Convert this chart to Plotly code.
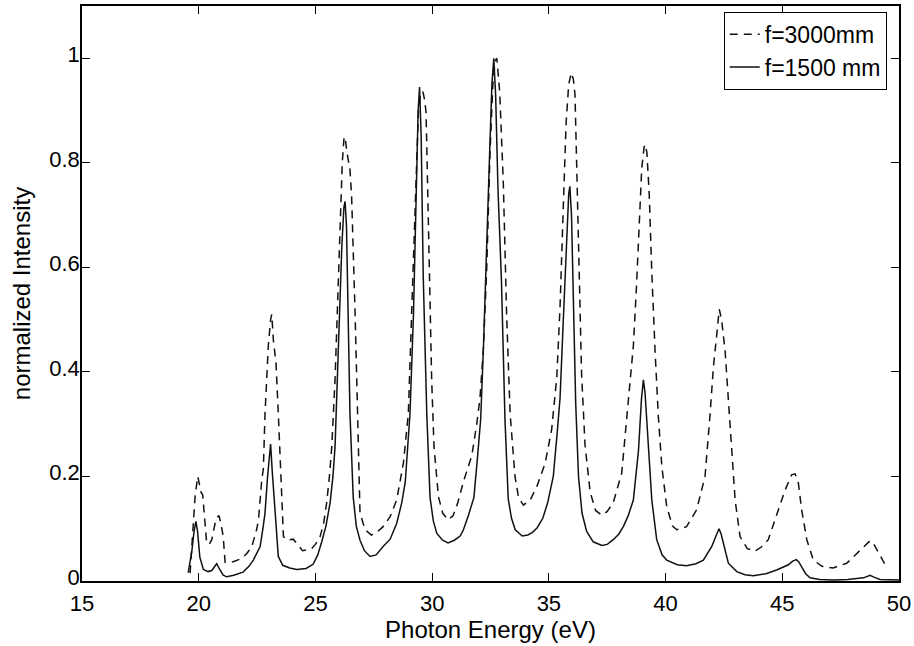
import plotly.graph_objects as go

# f=3000mm (dashed)
x_3000 = [19.63, 19.70, 19.77, 19.85, 19.96, 20.05, 20.10, 20.17, 20.27, 20.34, 20.45, 20.56, 20.70, 20.80,
          20.87, 20.95, 21.05, 21.13, 21.48, 21.84, 22.05, 22.27, 22.48, 22.56, 22.70, 22.77, 22.84, 22.98,
          23.08, 23.13, 23.20, 23.31, 23.41, 23.51, 23.56, 23.63, 23.80, 24.05, 24.25, 24.45, 24.70, 24.84,
          25.00, 25.20, 25.35, 25.48, 25.60, 25.70, 25.84, 25.98, 26.05, 26.15, 26.22, 26.27, 26.35, 26.48,
          26.55, 26.62, 26.70, 26.77, 26.84, 26.91, 27.13, 27.40, 27.60, 27.90, 28.20, 28.48, 28.77, 28.98,
          29.12, 29.27, 29.41, 29.50, 29.60, 29.68, 29.74, 29.80, 29.88, 29.98, 30.08, 30.27, 30.45, 30.68,
          30.90, 31.10, 31.34, 31.55, 31.70, 31.91, 32.05, 32.19, 32.34, 32.48, 32.60, 32.70, 32.77, 32.85,
          32.90, 33.05, 33.19, 33.34, 33.55, 33.70, 33.91, 34.20, 34.48, 34.84, 35.12, 35.34, 35.48, 35.62,
          35.74, 35.85, 35.96, 36.05, 36.12, 36.20, 36.30, 36.40, 36.55, 36.77, 37.00, 37.27, 37.50, 37.76,
          38.12, 38.34, 38.50, 38.62, 38.75, 38.88, 38.98, 39.08, 39.12, 39.20, 39.30, 39.41, 39.48, 39.55,
          39.69, 39.84, 40.05, 40.30, 40.48, 40.90, 41.33, 41.69, 41.90, 42.05, 42.19, 42.30, 42.40, 42.55,
          42.69, 42.84, 42.98, 43.19, 43.50, 43.83, 44.10, 44.40, 44.83, 45.12, 45.40, 45.55, 45.69, 45.83,
          46.05, 46.33, 46.70, 47.18, 47.76, 48.33, 48.76, 48.90, 49.05, 49.30, 49.48]
y_3000 = [0.015, 0.060, 0.117, 0.165, 0.200, 0.180, 0.170, 0.165, 0.117, 0.073, 0.070, 0.079, 0.110, 0.122,
          0.125, 0.110, 0.085, 0.036, 0.037, 0.043, 0.052, 0.065, 0.098, 0.117, 0.193, 0.215, 0.320, 0.449,
          0.500, 0.510, 0.460, 0.417, 0.320, 0.193, 0.160, 0.085, 0.078, 0.080, 0.068, 0.058, 0.060, 0.062,
          0.070, 0.085, 0.110, 0.149, 0.200, 0.257, 0.385, 0.577, 0.705, 0.800, 0.845, 0.850, 0.820, 0.787,
          0.736, 0.640, 0.510, 0.385, 0.257, 0.130, 0.098, 0.088, 0.092, 0.104, 0.123, 0.155, 0.226, 0.320,
          0.510, 0.705, 0.896, 0.930, 0.937, 0.920, 0.896, 0.768, 0.577, 0.385, 0.257, 0.161, 0.130, 0.117,
          0.125, 0.150, 0.190, 0.220, 0.240, 0.300, 0.350, 0.440, 0.600, 0.820, 0.950, 0.995, 1.000, 0.960,
          0.930, 0.760, 0.510, 0.320, 0.200, 0.160, 0.145, 0.155, 0.180, 0.225, 0.290, 0.390, 0.525, 0.717,
          0.877, 0.950, 0.972, 0.960, 0.930, 0.780, 0.590, 0.398, 0.260, 0.170, 0.135, 0.126, 0.133, 0.150,
          0.206, 0.315, 0.390, 0.450, 0.560, 0.700, 0.790, 0.830, 0.835, 0.820, 0.740, 0.590, 0.500, 0.440,
          0.315, 0.219, 0.142, 0.105, 0.098, 0.104, 0.136, 0.200, 0.315, 0.410, 0.470, 0.520, 0.500, 0.440,
          0.347, 0.250, 0.155, 0.085, 0.062, 0.057, 0.065, 0.079, 0.136, 0.174, 0.203, 0.205, 0.187, 0.136,
          0.079, 0.040, 0.028, 0.025, 0.034, 0.059, 0.077, 0.072, 0.059, 0.040, 0.025]

# f=1500 mm (solid)
x_1500 = [19.55, 19.70, 19.80, 19.88, 19.95, 20.05, 20.20, 20.40, 20.56, 20.70, 20.77, 20.90, 21.05, 21.20,
          21.50, 21.90, 22.15, 22.34, 22.50, 22.63, 22.75, 22.84, 22.95, 23.03, 23.08, 23.15, 23.27, 23.41,
          23.60, 23.90, 24.20, 24.60, 24.90, 25.10, 25.27, 25.45, 25.63, 25.75, 25.84, 25.98, 26.13, 26.22,
          26.27, 26.33, 26.41, 26.48, 26.62, 26.75, 26.91, 27.10, 27.34, 27.60, 27.90, 28.20, 28.48, 28.70,
          28.85, 29.05, 29.20, 29.30, 29.40, 29.46, 29.53, 29.62, 29.77, 29.91, 30.05, 30.20, 30.45, 30.68,
          30.95, 31.20, 31.34, 31.55, 31.79, 31.95, 32.08, 32.20, 32.30, 32.45, 32.56, 32.64, 32.72, 32.82,
          32.97, 33.12, 33.26, 33.40, 33.56, 33.86, 34.10, 34.30, 34.50, 34.74, 34.95, 35.19, 35.35, 35.48,
          35.62, 35.75, 35.85, 35.90, 35.97, 36.06, 36.15, 36.27, 36.42, 36.62, 36.90, 37.27, 37.50, 37.76,
          38.00, 38.19, 38.40, 38.62, 38.84, 38.97, 39.05, 39.12, 39.27, 39.41, 39.62, 39.85, 40.05, 40.50,
          40.90, 41.30, 41.62, 41.85, 41.98, 42.15, 42.29, 42.38, 42.48, 42.69, 43.05, 43.40, 43.75, 44.30,
          44.76, 45.26, 45.45, 45.60, 45.70, 45.83, 46.00, 46.19, 46.60, 47.20, 47.80, 48.48, 48.76, 48.95,
          49.19, 50.00]
y_1500 = [0.016, 0.055, 0.095, 0.114, 0.095, 0.045, 0.022, 0.018, 0.020, 0.030, 0.033, 0.022, 0.011, 0.008,
          0.011, 0.017, 0.028, 0.040, 0.055, 0.066, 0.100, 0.130, 0.200, 0.250, 0.262, 0.210, 0.130, 0.047,
          0.030, 0.025, 0.022, 0.024, 0.032, 0.050, 0.075, 0.105, 0.150, 0.200, 0.257, 0.449, 0.640, 0.715,
          0.726, 0.680, 0.510, 0.320, 0.160, 0.105, 0.078, 0.058, 0.047, 0.050, 0.066, 0.080, 0.110, 0.150,
          0.190, 0.320, 0.510, 0.700, 0.900, 0.945, 0.850, 0.580, 0.320, 0.160, 0.115, 0.091, 0.078, 0.073,
          0.078, 0.086, 0.098, 0.125, 0.160, 0.240, 0.310, 0.450, 0.574, 0.800, 0.950, 1.000, 0.930, 0.750,
          0.574, 0.309, 0.157, 0.120, 0.098, 0.086, 0.088, 0.093, 0.102, 0.120, 0.150, 0.200, 0.280, 0.350,
          0.500, 0.650, 0.740, 0.755, 0.700, 0.520, 0.340, 0.200, 0.130, 0.095, 0.075, 0.068, 0.070, 0.079,
          0.090, 0.104, 0.125, 0.155, 0.250, 0.350, 0.385, 0.360, 0.250, 0.155, 0.079, 0.050, 0.040, 0.031,
          0.029, 0.033, 0.040, 0.055, 0.066, 0.085, 0.100, 0.090, 0.072, 0.034, 0.018, 0.012, 0.010, 0.014,
          0.021, 0.031, 0.038, 0.041, 0.037, 0.027, 0.014, 0.006, 0.003, 0.002, 0.003, 0.006, 0.011, 0.007,
          0.003, 0.002]

x_ticks = [15, 20, 25, 30, 35, 40, 45, 50]
y_ticks = [0, 0.2, 0.4, 0.6, 0.8, 1]
y_tick_labels = ["0", "0.2", "0.4", "0.6", "0.8", "1"]

FONT = "Liberation Sans, Arial, Helvetica, sans-serif"
FS = 24
TFS = 22

fig = go.Figure()
fig.add_trace(go.Scatter(x=x_3000, y=y_3000, mode="lines", name="f=3000mm",
                         line=dict(color="#111111", width=1.5, dash="8px,6px")))
fig.add_trace(go.Scatter(x=x_1500, y=y_1500, mode="lines", name="f=1500 mm",
                         line=dict(color="#111111", width=1.5)))

axis_common = dict(showline=True, linecolor="black", linewidth=1.5, mirror="ticks",
                   ticks="inside", ticklen=8, tickwidth=1.2, tickcolor="black",
                   showgrid=False, zeroline=False, automargin=False,
                   tickfont=dict(family=FONT, size=TFS, color="black"))

fig.update_xaxes(range=[15, 50], tickvals=x_ticks,
                 ticklabelstandoff=2,
                 title=dict(text="Photon Energy (eV)", font=dict(family=FONT, size=FS, color="black"),
                            standoff=0),
                 **axis_common)
fig.update_yaxes(range=[0, 1.1], tickvals=y_ticks, ticktext=y_tick_labels,
                 ticklabelstandoff=-4, ticklabelshift=-4,
                 title=dict(text="normalized Intensity", font=dict(family=FONT, size=FS, color="black"),
                            standoff=12),
                 **axis_common)

fig.update_layout(
    width=914, height=646,
    margin=dict(l=82, r=15, t=6, b=65),
    paper_bgcolor="white", plot_bgcolor="white",
    font=dict(family=FONT, size=FS, color="black"),
    showlegend=True,
    legend=dict(x=0.985, y=0.99, xanchor="right", yanchor="top",
                bgcolor="white", bordercolor="black", borderwidth=1,
                font=dict(family=FONT, size=23, color="black"),
                tracegroupgap=0),
)

fig.write_html("out.html", config={"displayModeBar": False},
               post_script="document.body.style.margin='0';document.body.style.padding='0';")
